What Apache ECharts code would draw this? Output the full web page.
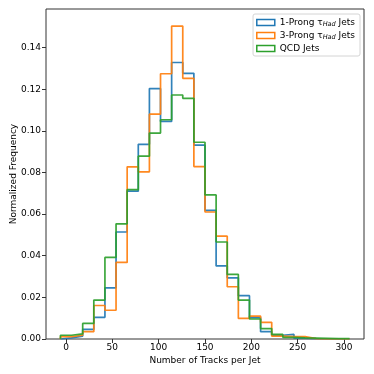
<!DOCTYPE html>
<html>
<head>
<meta charset="utf-8">
<script src="https://cdn.jsdelivr.net/npm/echarts@6/dist/echarts.min.js"></script>
<style>
  html, body { margin: 0; padding: 0; background: #fff; }
  #chart { width: 374px; height: 374px; }
</style>
</head>
<body>
<div id="chart"></div>
<script>
// bin edges: -6 .. 306, width 12 (26 bins)
const binEdges = [-6, 6, 18, 30, 42, 54, 66, 78, 90, 102, 114, 126, 138, 150,
  162, 174, 186, 198, 210, 222, 234, 246, 258, 270, 282, 294, 306]

const oneProng = [0.0005, 0.0014, 0.0046, 0.0104, 0.0246, 0.0514, 0.0710, 0.0935,
  0.1203, 0.1045, 0.1328, 0.1276, 0.0931, 0.0618, 0.0351, 0.0294, 0.0208, 0.0103,
  0.0035, 0.0018, 0.0022, 0.0004, 0.0002, 0.0001, 0.0, 0.0]

const threeProng = [0.0011, 0.0018, 0.0035, 0.0161, 0.0138, 0.0368, 0.0827, 0.0803,
  0.1080, 0.1274, 0.1503, 0.1252, 0.0828, 0.0610, 0.0494, 0.0251, 0.0099, 0.0110,
  0.0080, 0.0014, 0.0011, 0.0011, 0.0002, 0.0001, 0.0, 0.0]

const qcd = [0.0018, 0.0025, 0.0075, 0.0187, 0.0392, 0.0553, 0.0717, 0.0878,
  0.0989, 0.1053, 0.1172, 0.1156, 0.0945, 0.0692, 0.0466, 0.0310, 0.0187, 0.0096,
  0.0050, 0.0022, 0.0008, 0.0005, 0.0004, 0.0003, 0.0002, 0.0002]

const xTicks = [0, 50, 100, 150, 200, 250, 300]
const yTicks = [0, 0.02, 0.04, 0.06, 0.08, 0.10, 0.12, 0.14]

const seriesNames = ['1-Prong', '3-Prong', 'QCD']
const labelText = {
  '1-Prong': '{t|1-Prong τ}{s|Had}{t| Jets}',
  '3-Prong': '{t|3-Prong τ}{s|Had}{t| Jets}',
  'QCD': '{t|QCD Jets}',
}
const colors = ['#1f77b4', '#ff7f0e', '#2ca02c']

// step outline of a histogram, step 'end'
function stepPoints(heights) {
  const pts = [[binEdges[0], 0]]
  heights.forEach((h, i) => pts.push([binEdges[i], h]))
  const last = binEdges[binEdges.length - 1]
  pts.push([last, heights[heights.length - 1]])
  pts.push([last, 0])
  return pts
}

const font = 'DejaVu Sans'
const chart = echarts.init(document.getElementById('chart'))

const series = [oneProng, threeProng, qcd].map((h, i) => ({
  name: seriesNames[i],
  type: 'line',
  step: 'end',
  data: stepPoints(h),
  showSymbol: false,
  symbol: 'none',
  animation: false,
  lineStyle: { width: 1.7, color: colors[i], opacity: 0.92 },
  itemStyle: { color: colors[i] },
  z: 2 + i,
}))

chart.setOption({
  animation: false,
  grid: {
    left: 46, right: 10, top: 9, bottom: 35,
    outerBoundsMode: 'none',
    containLabel: false,
    show: true, borderColor: '#333', borderWidth: 1,
  },
  legend: {
    orient: 'vertical',
    right: 14, top: 14,
    padding: [4, 5, 3, 3],
    itemGap: 3,
    itemWidth: 18, itemHeight: 6,
    borderColor: '#d4d4d4', borderWidth: 1, borderRadius: 2,
    backgroundColor: '#fff',
    data: seriesNames.map((n, i) => ({
      name: n,
      icon: 'rect',
      itemStyle: { color: '#fff', borderColor: colors[i], borderWidth: 1.5 },
    })),
    formatter: (n) => labelText[n],
    textStyle: {
      fontFamily: font, fontSize: 9, color: '#000',
      rich: {
        t: { fontFamily: font, fontSize: 9, color: '#000' },
        s: { fontFamily: font, fontSize: 6.5, fontStyle: 'italic', color: '#000', padding: [4, 0, 0, 0] },
      },
    },
  },
  xAxis: {
    type: 'value',
    min: -21.6, max: 321.6,
    name: 'Number of Tracks per Jet',
    nameLocation: 'middle', nameGap: 17,
    nameMoveOverlap: false,
    nameTextStyle: { fontFamily: font, fontSize: 9, color: '#000' },
    axisLine: { show: false, onZero: false },
    axisTick: { show: true, length: 4, lineStyle: { color: '#333' }, customValues: xTicks },
    axisLabel: { fontFamily: font, fontSize: 9, color: '#000', margin: 4, customValues: xTicks },
    splitLine: { show: false },
  },
  yAxis: {
    type: 'value',
    min: 0, max: 0.1585,
    name: 'Normalized Frequency',
    nameLocation: 'middle', nameGap: 28,
    nameMoveOverlap: false,
    nameTextStyle: { fontFamily: font, fontSize: 9, color: '#000' },
    axisLine: { show: false, onZero: false },
    axisTick: { show: true, length: 4, lineStyle: { color: '#333' }, customValues: yTicks },
    axisLabel: {
      fontFamily: font, fontSize: 9, color: '#000', margin: 5,
      customValues: yTicks,
      formatter: (v) => v.toFixed(2),
    },
    splitLine: { show: false },
  },
  series,
})
</script>
</body>
</html>
